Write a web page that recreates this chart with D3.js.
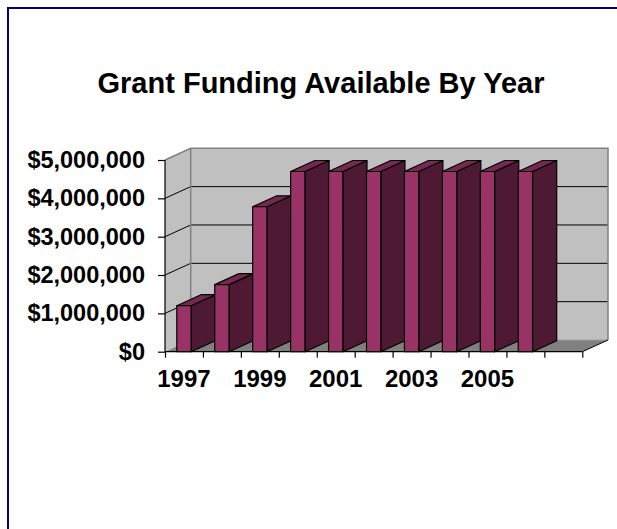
<!DOCTYPE html>
<html>
<head>
<meta charset="utf-8">
<script src="https://cdn.jsdelivr.net/npm/d3@7"></script>
<style>
  html, body { margin: 0; padding: 0; background: #ffffff; }
  svg { display: block; }
  text { font-family: "Liberation Sans", Arial, Helvetica, sans-serif; font-weight: bold; fill: #000; }
</style>
</head>
<body>
<script>
// Grant funding by year (dollars); 2007 has no amount yet
const years = ["1997", "1998", "1999", "2000", "2001", "2002", "2003", "2004", "2005", "2006", "2007"];
const funding = [1200000, 1750000, 3780000, 4700000, 4700000, 4700000, 4700000, 4700000, 4700000, 4700000, null];
const yTicks = [0, 1000000, 2000000, 3000000, 4000000, 5000000];
const yearLabels = ["1997", "1999", "2001", "2003", "2005"];
const chartTitle = "Grant Funding Available By Year";

const W = 617, H = 529;
const svg = d3.select("body").append("svg").attr("width", W).attr("height", H);
svg.append("rect").attr("width", W).attr("height", H).attr("fill", "#ffffff");

// chart-area frame
svg.append("rect")
  .attr("x", 8).attr("y", 8).attr("width", 700).attr("height", 700)
  .attr("fill", "none").attr("stroke", "#000080").attr("stroke-width", 2);

svg.append("text")
  .attr("x", 321).attr("y", 93)
  .attr("text-anchor", "middle")
  .style("font-size", "29px")
  .text(chartTitle);

// front plane scales
const x0 = 165, x1 = 582.3;
const xSlot = d3.scaleBand().domain(years).range([x0, x1]).padding(0);
const xIdx = d3.scaleLinear().domain([0, years.length]).range([x0, x1]);
const y = d3.scaleLinear().domain([0, 5000000]).range([351.7, 160]);

// depth (oblique projection) of the plot box
const DX = 25.7, DY = -11.7;
const barDepth = 0.94;
const bdx = DX * barDepth, bdy = DY * barDepth;

const pt = (a, b) => a + "," + b;
const poly = (pts) => pts.map(p => pt(p[0], p[1])).join(" ");

const yTop = y(5000000), yBase = y(0);

// side wall
svg.append("polygon")
  .attr("points", poly([[x0, yTop], [x0 + DX, yTop + DY], [x0 + DX, yBase + DY], [x0, yBase]]))
  .attr("fill", "#c0c0c0").attr("stroke", "none");
// back wall
svg.append("polygon")
  .attr("points", poly([[x0 + DX, yTop + DY], [x1 + DX, yTop + DY], [x1 + DX, yBase + DY], [x0 + DX, yBase + DY]]))
  .attr("fill", "#c0c0c0").attr("stroke", "none");
// floor
svg.append("polygon")
  .attr("points", poly([[x0, yBase], [x0 + DX, yBase + DY], [x1 + DX, yBase + DY], [x1, yBase]]))
  .attr("fill", "#808080").attr("stroke", "none");

// gridlines across side and back walls
const grid = svg.append("g");
yTicks.filter(v => v > 0 && v < 5000000).forEach(v => {
  grid.append("polyline")
    .attr("points", poly([[x0, y(v)], [x0 + DX, y(v) + DY], [x1 + DX, y(v) + DY]]))
    .attr("fill", "none").attr("stroke", "#000").attr("stroke-width", 1);
});

// wall edges
const edge = svg.append("g").attr("fill", "none").attr("stroke", "#808080").attr("stroke-width", 1.5);
edge.append("polyline")
  .attr("points", poly([[x0, yTop], [x0 + DX, yTop + DY], [x1 + DX, yTop + DY], [x1 + DX, yBase + DY]]));
edge.append("line")
  .attr("x1", x0 + DX).attr("y1", yTop + DY).attr("x2", x0 + DX).attr("y2", yBase + DY);
edge.append("line")
  .attr("x1", x0 + DX).attr("y1", yBase + DY).attr("x2", x1 + DX).attr("y2", yBase + DY)
  .attr("stroke", "#a0a0a0").attr("stroke-width", 1);
svg.append("line")
  .attr("x1", x1).attr("y1", yBase).attr("x2", x1 + DX).attr("y2", yBase + DY)
  .attr("stroke", "#000").attr("stroke-width", 1);

// bars, drawn left to right so each front face covers the previous side face
const barFrac = 0.377;
const bw = xSlot.bandwidth() * barFrac;
const bars = svg.append("g").attr("stroke", "#000").attr("stroke-width", 1.2).attr("stroke-linejoin", "round");
years.forEach((yr, i) => {
  const v = funding[i];
  if (v == null) return;
  const L = xSlot(yr) + (xSlot.bandwidth() - bw) / 2;
  const R = L + bw;
  const T = y(v), B = y(0);
  const g = bars.append("g");
  // side face
  g.append("polygon")
    .attr("points", poly([[R, B], [R + bdx, B + bdy], [R + bdx, T + bdy], [R, T]]))
    .attr("fill", "#4d1933");
  // top face
  g.append("polygon")
    .attr("points", poly([[L, T], [R, T], [R + bdx, T + bdy], [L + bdx, T + bdy]]))
    .attr("fill", "#772852");
  // front face
  g.append("rect")
    .attr("x", L).attr("y", T).attr("width", bw).attr("height", B - T)
    .attr("fill", "#993366");
});

// value axis
const yAxis = svg.append("g")
  .attr("transform", "translate(" + x0 + ",0)")
  .call(d3.axisLeft(y).tickValues(yTicks).tickSize(7).tickPadding(13).tickFormat(d3.format("$,.0f")));
yAxis.select(".domain").attr("stroke", "#000").attr("stroke-width", 1.2).attr("d", "M0," + yTop + "V" + yBase);
yAxis.selectAll(".tick line").attr("stroke", "#000").attr("stroke-width", 1.2);
yAxis.selectAll(".tick text").style("font-size", "23.5px").attr("fill", "#000");

// category axis
const xAxis = svg.append("g")
  .attr("transform", "translate(0," + yBase + ")")
  .call(d3.axisBottom(xIdx).tickValues(d3.range(years.length + 1)).tickSize(6).tickFormat(""));
xAxis.select(".domain").attr("stroke", "#000").attr("stroke-width", 1.2).attr("d", "M" + x0 + ",0H" + x1);
xAxis.selectAll(".tick line").attr("stroke", "#000").attr("stroke-width", 1.2);

svg.append("g").selectAll("text")
  .data(yearLabels)
  .join("text")
  .attr("x", d => xSlot(d) + xSlot.bandwidth() / 2)
  .attr("y", 387)
  .attr("text-anchor", "middle")
  .style("font-size", "24px")
  .text(d => d);
</script>
</body>
</html>
